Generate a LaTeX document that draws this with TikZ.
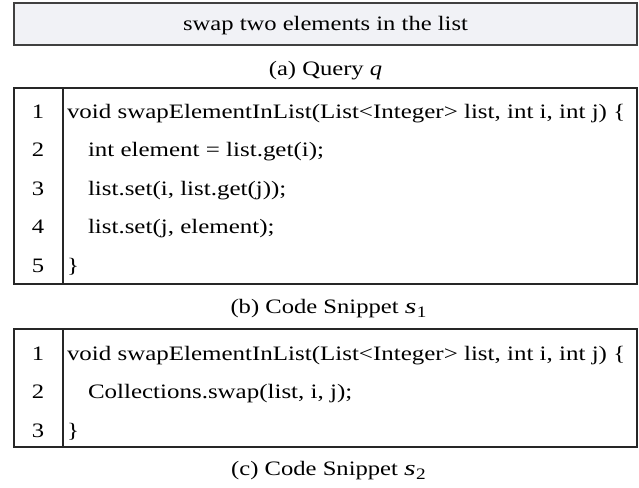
\documentclass[tikz,border=0pt]{standalone}
\usepackage{fontspec}
\usepackage{graphicx}
\setmainfont{Liberation Serif}
\newcommand\hs[1]{\scalebox{1.2}[1]{#1}}
\newcommand\hc[1]{\scalebox{1.218}[1]{#1}}
\newcommand\subvar[2]{\scalebox{1.45}[1.05]{\textit{#1}}\hspace{0.5pt}\raisebox{-0.45ex}{\scalebox{1.2}[1]{\fontsize{16}{16}\selectfont #2}}}
\definecolor{qfill}{RGB}{241,242,246}
\tikzset{
  x=1pt, y=-1pt,
  txt/.style={inner sep=0pt, outer sep=0pt, font=\fontsize{20.5}{24}\selectfont},
  codeline/.style={txt, anchor=base west},
  numcell/.style={txt, anchor=base},
  caption/.style={txt, anchor=base},
  querybox/.style={draw=black!75, line width=1.4pt, fill=qfill},
  codebox/.style={draw=black!85, line width=1.4pt},
}
\begin{document}
\begin{tikzpicture}
\useasboundingbox (0,0) rectangle (639,487);
% query
\draw[querybox] (14,3) rectangle (637,45);
\node[caption] (qtext) at (325.5,31) {\hs{swap two elements in the list}};
\node[caption] (capa) at (325.5,75.5) {\hs{(a) Query \textit{q}}};
% snippet 1
\draw[codebox] (14,88) rectangle (637,284);
\draw[codebox] (63,88) -- (63,284);
\node[numcell] (n11) at (38,118) {\hs{1}};
\node[numcell] (n12) at (38,156.5) {\hs{2}};
\node[numcell] (n13) at (38,195) {\hs{3}};
\node[numcell] (n14) at (38,233.5) {\hs{4}};
\node[numcell] (n15) at (38,272) {\hs{5}};
\node[codeline] (c11) at (67,118) {\hc{void swapElementInList(List<Integer> list, int i, int j) \{}};
\node[codeline] (c12) at (88,156.5) {\hc{int element = list.get(i);}};
\node[codeline] (c13) at (88,195) {\hc{list.set(i, list.get(j));}};
\node[codeline] (c14) at (88,233.5) {\hc{list.set(j, element);}};
\node[codeline] (c15) at (67,272) {\hc{\}}};
\node[caption] (capb) at (328.5,313) {\hs{(b) Code Snippet }\subvar{s}{1}};
% snippet 2
\draw[codebox] (14,329) rectangle (637,447);
\draw[codebox] (63,329) -- (63,447);
\node[numcell] (n21) at (38,360) {\hs{1}};
\node[numcell] (n22) at (38,398.5) {\hs{2}};
\node[numcell] (n23) at (38,437) {\hs{3}};
\node[codeline] (c21) at (67,360) {\hc{void swapElementInList(List<Integer> list, int i, int j) \{}};
\node[codeline] (c22) at (88,398.5) {\hc{Collections.swap(list, i, j);}};
\node[codeline] (c23) at (67,437) {\hc{\}}};
\node[caption] (capc) at (328.5,475) {\hs{(c) Code Snippet }\subvar{s}{2}};
\end{tikzpicture}
\end{document}
